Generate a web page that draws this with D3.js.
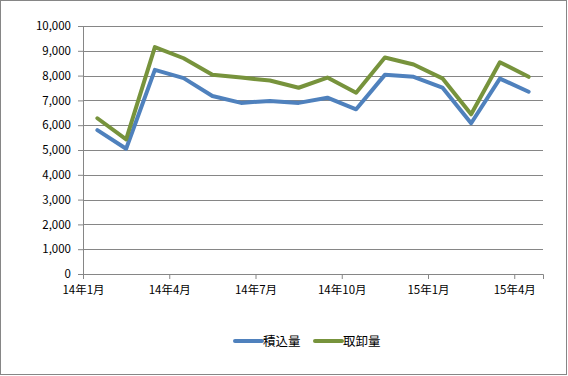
<!DOCTYPE html>
<html>
<head>
<meta charset="utf-8">
<script src="https://cdn.jsdelivr.net/npm/d3@7"></script>
<style>
  body { margin: 0; background: #fff; }
  text { font-family: "Noto Sans CJK JP", "DejaVu Sans", sans-serif; }
</style>
</head>
<body>
<div id="chart"></div>
<script>
// months on the date axis (one point per month)
const months = ["14年1月", "14年2月", "14年3月", "14年4月", "14年5月", "14年6月", "14年7月", "14年8月",
    "14年9月", "14年10月", "14年11月", "14年12月", "15年1月", "15年2月", "15年3月", "15年4月"];
const tickMonths = ["14年1月", "14年4月", "14年7月", "14年10月", "15年1月", "15年4月"];
const yTicks = [0, 1000, 2000, 3000, 4000, 5000, 6000, 7000, 8000, 9000, 10000];

const seriesNames = ["積込量", "取卸量"];
const loading = [5800, 5050, 8230, 7900, 7180, 6900, 6980, 6900, 7110, 6640, 8030, 7950, 7520, 6080, 7880, 7350];
const unloading = [6280, 5430, 9150, 8700, 8030, 7920, 7800, 7510, 7920, 7310, 8730, 8450, 7890, 6440, 8540, 7950];
const colors = ["#4F81BD", "#77933C"];

const width = 568, height = 376;
const margin = {top: 26, right: 25, bottom: 102, left: 83};
const innerW = width - margin.left - margin.right;
const innerH = height - margin.top - margin.bottom;

const svg = d3.select("#chart").append("svg")
    .attr("width", width)
    .attr("height", height);

// outer border
svg.append("rect")
    .attr("x", 0.5).attr("y", 0.5)
    .attr("width", width - 2).attr("height", height - 2)
    .attr("fill", "#fff")
    .attr("stroke", "#868686");

const chart = svg.append("g")
    .attr("transform", `translate(${margin.left}, ${margin.top})`);

const x = d3.scaleBand().domain(months).range([0, innerW]).padding(0);
const y = d3.scaleLinear().domain([0, 10000]).range([innerH, 0]);

// gridlines
chart.append("g")
    .selectAll("line")
    .data(yTicks.filter(d => d > 0))
    .enter().append("line")
    .attr("x1", 0).attr("x2", innerW)
    .attr("y1", d => Math.round(y(d)) + 0.5)
    .attr("y2", d => Math.round(y(d)) + 0.5)
    .attr("stroke", "#868686");

// y axis
const yAxis = chart.append("g")
    .call(d3.axisLeft(y).tickValues(yTicks).tickSize(5).tickPadding(7).tickFormat(d3.format(",")));
yAxis.select(".domain").attr("stroke", "#868686");
yAxis.selectAll(".tick line").attr("stroke", "#868686");
yAxis.selectAll("text").attr("font-size", 11.5).attr("fill", "#000");

// x axis: ticks at month starts, labels every 3 months
const xAxis = chart.append("g")
    .attr("transform", `translate(0, ${innerH})`)
    .call(d3.axisBottom(x).tickValues(tickMonths).tickSize(5).tickPadding(7));
xAxis.selectAll(".tick").attr("transform", d => `translate(${x(d) + 0.5}, 0)`);
xAxis.select(".domain").attr("stroke", "#868686");
xAxis.selectAll(".tick line").attr("stroke", "#868686");
xAxis.selectAll("text").attr("font-size", 11.5).attr("fill", "#000");

// lines
const line = d3.line()
    .x((d, i) => x(months[i]) + x.bandwidth() / 2)
    .y(d => y(d));

[loading, unloading].forEach((data, i) => {
    chart.append("path")
        .datum(data)
        .attr("d", line)
        .attr("fill", "none")
        .attr("stroke", colors[i])
        .attr("stroke-width", 4)
        .attr("stroke-linejoin", "round")
        .attr("stroke-linecap", "round");
});

// legend
const legend = svg.append("g")
    .attr("transform", "translate(235, 341)");
const legendItems = [{x: 0}, {x: 80}];
seriesNames.forEach((name, i) => {
    const g = legend.append("g").attr("transform", `translate(${legendItems[i].x}, 0)`);
    g.append("line")
        .attr("x1", 0).attr("x2", 27)
        .attr("y1", 0).attr("y2", 0)
        .attr("stroke", colors[i])
        .attr("stroke-width", 4)
        .attr("stroke-linecap", "round");
    g.append("text")
        .attr("x", 28).attr("y", 4.5)
        .attr("font-size", 12.5)
        .attr("fill", "#000")
        .text(name);
});
</script>
</body>
</html>
